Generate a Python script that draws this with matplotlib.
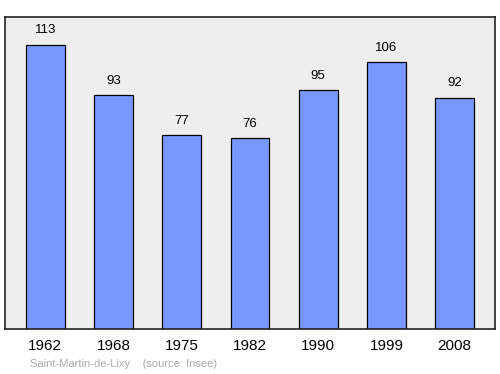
import matplotlib
matplotlib.use("Agg")
import matplotlib.pyplot as plt

years = ["1962", "1968", "1975", "1982", "1990", "1999", "2008"]
population = [113, 93, 77, 76, 95, 106, 92]

plt.rcParams['font.family'] = ['Liberation Sans', 'DejaVu Sans']

fig = plt.figure(figsize=(5, 3.74), dpi=100)
ax = fig.add_axes([0.01, 0.1203, 0.98, 0.834])
ax.set_facecolor('#eeeeee')

x = list(range(len(years)))
ax.bar(x, population, width=0.57, color='#7799ff', edgecolor='black', linewidth=0.9)
for xi, v in zip(x, population):
    ax.text(xi, v + 3.3, str(v), ha='center', va='bottom', fontsize=9.5)

ax.set_xlim(-0.59, len(years) - 1 + 0.59)
ax.set_ylim(0, 124)
ax.set_xticks(x)
ax.set_xticklabels(years, fontsize=11)
ax.tick_params(axis='x', length=0, pad=7)
ax.set_yticks([])
for s in ax.spines.values():
    s.set_linewidth(1.2)
    s.set_color('#222222')

fig.text(0.06, 0.018, "Saint-Martin-de-Lixy    (source: Insee)", color='#aaaaaa', fontsize=8)

fig.savefig("out.png", dpi=100)
